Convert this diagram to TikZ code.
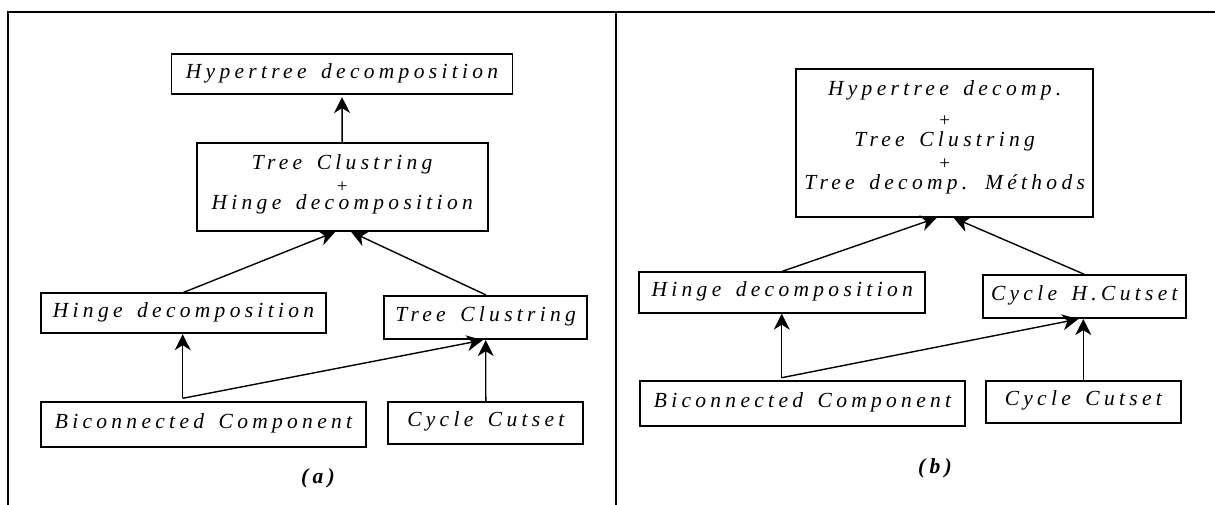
\documentclass[tikz,border=0pt]{standalone}
\usepackage{fontspec}
\setmainfont{Liberation Serif}
\newfontfamily\spacedserif[LetterSpace=20,WordSpace=1.5]{Liberation Serif}
\usetikzlibrary{arrows.meta}

\newcommand\lbltext{\spacedserif\itshape\fontsize{21.5}{25}\selectfont}
\newcommand\plustext{\rmfamily\upshape\fontsize{19}{22}\selectfont}
\newcommand\captext{\spacedserif\bfseries\itshape\fontsize{21.5}{25}\selectfont}

\tikzset{
  box/.style={draw, line width=1.8pt, inner sep=0pt, font=\lbltext,
              text height=14pt, text depth=6pt},
  arr/.style={-{Stealth[length=16pt,width=16pt,inset=5pt]}, line width=1.4pt},
  frameline/.style={line width=2pt},
  txt/.style={inner sep=0pt, font=\lbltext, anchor=base},
  plus/.style={inner sep=0pt, font=\plustext},
  caption/.style={inner sep=0pt, font=\captext, anchor=base},
}

\begin{document}
\begin{tikzpicture}[x=1pt, y=-1pt]
\useasboundingbox (0,0) rectangle (1215,505);

% outer frame and the divider between the two panels
\draw[frameline] (8,505) -- (8,12) -- (1215,12);
\draw[frameline] (616,12) -- (616,505);

% ---------------- panel (a) ----------------
\node[box, minimum width=341pt, minimum height=40pt] (hypA) at (342,74.2) {Hypertree decomposition};
\node[box, minimum width=291pt, minimum height=88pt] (midA) at (342.2,187) {};
\node[txt] (midA1) at (342.2,169.3) {Tree Clustring};
\node[plus] (midA2) at (342.2,187) {+};
\node[txt] (midA3) at (342.2,210) {Hinge decomposition};
\node[box, minimum width=285pt, minimum height=40pt] (hingeA) at (183.5,313.3) {Hinge decomposition};
\node[box, minimum width=203pt, minimum height=43.5pt] (treeA) at (485.7,317.5) {Tree Clustring};
\node[box, minimum width=325pt, minimum height=45pt] (biconA) at (203.5,424.2) {Biconnected Component};
\node[box, minimum width=195pt, minimum height=42pt] (cycleA) at (485.8,422.8) {Cycle Cutset};
\node[caption] (capA) at (318,483) {(a)};
\coordinate (jA) at (182.7,398.3);

\draw[arr, shorten >=2pt] (midA.north) -- (hypA.south);
\draw[arr] (hingeA.north) -- ([xshift=-7pt]midA.south);
\draw[arr] (treeA.north) -- ([xshift=9pt]midA.south);
\draw[arr] (jA) -- (jA |- hingeA.south);
\draw[arr] (jA) -- ([xshift=-3pt]treeA.south);
\draw[arr] (cycleA.north) -- (treeA.south);

% ---------------- panel (b) ----------------
\node[box, minimum width=297pt, minimum height=148pt] (hypB) at (944.7,143) {};
\node[txt] (hypB1) at (944.7,96) {Hypertree decomp.};
\node[plus] (hypB2) at (944.7,121) {+};
\node[txt] (hypB3) at (944.7,147) {Tree Clustring};
\node[plus] (hypB4) at (944.7,164) {+};
\node[txt] (hypB5) at (944.7,190) {Tree decomp. Méthods};
\node[box, minimum width=286pt, minimum height=40.5pt] (hingeB) at (782.2,292.5) {Hinge decomposition};
\node[box, minimum width=203pt, minimum height=43pt] (cycleHB) at (1084.3,296.7) {Cycle H.Cutset};
\node[box, minimum width=325pt, minimum height=45pt] (biconB) at (802.5,403.3) {Biconnected Component};
\node[box, minimum width=195pt, minimum height=42pt] (cycleB) at (1083.3,401.8) {Cycle Cutset};
\node[caption] (capB) at (935,473) {(b)};
\coordinate (jB) at (781.7,377.7);

\draw[arr] (hingeB.north) -- ([xshift=-8pt]hypB.south);
\draw[arr] (cycleHB.north) -- ([xshift=9pt]hypB.south);
\draw[arr] (jB) -- (jB |- hingeB.south);
\draw[arr] (jB) -- ([xshift=-6pt]cycleHB.south);
\draw[arr] (cycleB.north) -- (cycleB.north |- cycleHB.south);
\end{tikzpicture}
\end{document}
